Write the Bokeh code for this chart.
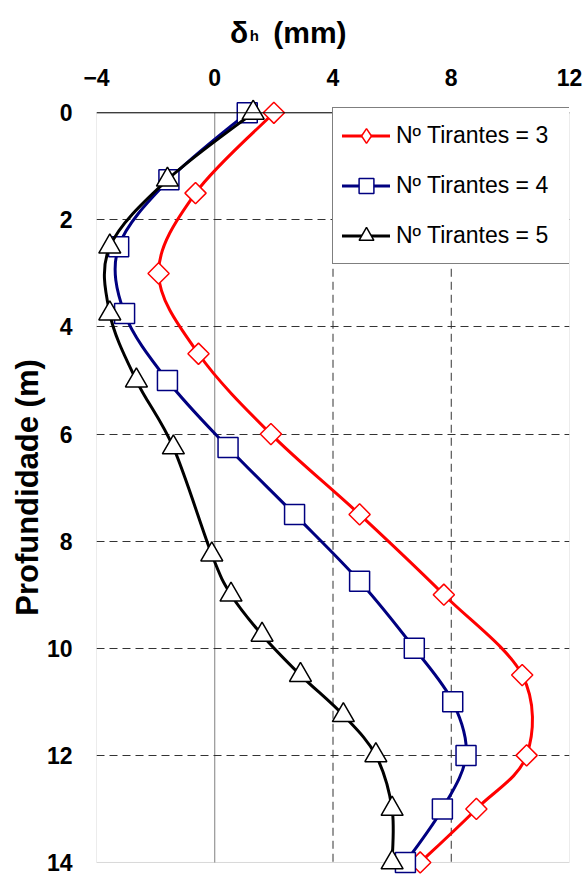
import numpy as np
from bokeh.plotting import figure
from bokeh.models import (Range1d, FixedTicker, Span, BoxAnnotation, Legend, LegendItem,
                          ColumnDataSource, LinearAxis)
from bokeh.embed import file_html
from bokeh.resources import INLINE

# ---------------- data ----------------
x_ticks = [-4, 0, 4, 8, 12]
y_ticks = [0, 2, 4, 6, 8, 10, 12, 14]

depth_3 = [0, 1.5, 3, 4.5, 6, 7.5, 9, 10.5, 12, 13, 14]
delta_3 = [2.0, -0.65, -1.9, -0.55, 1.9, 4.9, 7.75, 10.4, 10.55, 8.85, 6.95]

depth_4 = [0, 1.25, 2.5, 3.75, 5, 6.25, 7.5, 8.75, 10, 11, 12, 13, 14]
delta_4 = [1.1, -1.55, -3.25, -3.05, -1.6, 0.45, 2.7, 4.9, 6.75, 8.05, 8.5, 7.7, 6.45]

depth_5 = [0, 1.25, 2.5, 3.75, 5, 6.25, 8.25, 9, 9.75, 10.5, 11.25, 12, 13, 14]
delta_5 = [1.3, -1.6, -3.55, -3.55, -2.65, -1.4, -0.1, 0.55, 1.6, 2.9, 4.35, 5.45, 6.0, 6.0]

labels = ["Nº Tirantes = 3", "Nº Tirantes = 4", "Nº Tirantes = 5"]
x_title_parts = {0.82: "δ", 3.22: "(mm)"}
x_title_sub = {1.34: "h"}
y_title = "Profundidade (m)"

FONT = "Liberation Sans"

p = figure(width=585, height=876, title=None,
           x_range=Range1d(-4, 12), y_range=Range1d(14.243, -0.248),
           x_axis_location="above", output_backend="svg", toolbar_location=None,
           min_border_left=96, min_border_right=16, min_border_top=99, min_border_bottom=1)
p.outline_line_color = None
p.background_fill_color = "white"
p.border_fill_color = "white"


def style_axis(ax, size, standoff):
    ax.axis_line_color = None
    ax.major_tick_in = 0
    ax.major_tick_out = 0
    ax.minor_tick_in = 0
    ax.minor_tick_out = 0
    ax.major_label_text_font = FONT
    ax.major_label_text_font_style = "bold"
    ax.major_label_text_font_size = size
    ax.major_label_text_color = "black"
    ax.major_label_standoff = standoff


style_axis(p.xaxis[0], "23px", 14)
style_axis(p.yaxis[0], "23px", 24)
p.xaxis.ticker = FixedTicker(ticks=x_ticks)
p.yaxis.ticker = FixedTicker(ticks=y_ticks)

# y axis title
p.yaxis.axis_label = y_title
p.yaxis.axis_label_text_font = FONT
p.yaxis.axis_label_text_font_style = "bold"
p.yaxis.axis_label_text_font_size = "31px"
p.yaxis.axis_label_text_color = "black"
p.yaxis.axis_label_standoff = -1

# x axis title "δh (mm)" built from two extra label-only axes (small h)
ax_t = LinearAxis(ticker=FixedTicker(ticks=list(x_title_parts)),
                  major_label_overrides=x_title_parts)
style_axis(ax_t, "30px", 17)
p.add_layout(ax_t, "above")
ax_h = LinearAxis(ticker=FixedTicker(ticks=list(x_title_sub)),
                  major_label_overrides=x_title_sub)
style_axis(ax_h, "15px", -31)
p.add_layout(ax_h, "above")

# grids
p.xgrid.visible = False
p.ygrid.ticker = FixedTicker(ticks=y_ticks[1:-1])
p.ygrid.grid_line_color = "#333333"
p.ygrid.grid_line_dash = "8 5"
p.ygrid.grid_line_width = 1

ymin, ymax = y_ticks[0], y_ticks[-1]
grid_x = x_ticks[2:-1]
p.segment(x0=grid_x, y0=[ymin] * len(grid_x), x1=grid_x, y1=[ymax] * len(grid_x),
          line_color="#333333", line_dash="8 5", line_width=1, level="underlay")
p.segment(x0=[0], y0=[ymin], x1=[0], y1=[ymax], line_color="#808080", line_width=1,
          level="underlay")

# plot border
p.add_layout(BoxAnnotation(left=x_ticks[0], right=x_ticks[-1], top=ymin, bottom=ymax,
                           fill_alpha=0, line_color="#808080", line_width=1, level="underlay"))
p.add_layout(Span(location=ymin, dimension="width", line_color="black", line_width=1))


def bezier_source(xs, ys):
    P = np.column_stack([xs, ys]).astype(float)
    n = len(P)
    x0, y0, x1, y1, cx0, cy0, cx1, cy1 = ([] for _ in range(8))
    for i in range(n - 1):
        p0 = P[i - 1] if i > 0 else P[i]
        p1, p2 = P[i], P[i + 1]
        p3 = P[i + 2] if i + 2 < n else P[i + 1]
        c1 = p1 + (p2 - p0) / 6.0
        c2 = p2 - (p3 - p1) / 6.0
        x0.append(p1[0]); y0.append(p1[1]); x1.append(p2[0]); y1.append(p2[1])
        cx0.append(c1[0]); cy0.append(c1[1]); cx1.append(c2[0]); cy1.append(c2[1])
    return ColumnDataSource(dict(x0=x0, y0=y0, x1=x1, y1=y1, cx0=cx0, cy0=cy0, cx1=cx1, cy1=cy1))


series = [
    (delta_3, depth_3, "#FF0000", dict(marker="square", angle=np.pi / 4, size=15), "diamond"),
    (delta_4, depth_4, "#000080", dict(marker="square", size=20), None),
    (delta_5, depth_5, "#000000", dict(marker="triangle", size=22), None),
]

items = []
for (xs, ys, col, mk, legend_marker), lab in zip(series, labels):
    b = p.bezier(x0="x0", y0="y0", x1="x1", y1="y1", cx0="cx0", cy0="cy0", cx1="cx1", cy1="cy1",
                 source=bezier_source(xs, ys), line_color=col, line_width=3, line_cap="round")
    lm = None
    if legend_marker:
        # drawn underneath the (rotated-square) markers; used for the legend glyph
        lm = p.scatter(xs, ys, marker=legend_marker, size=13, fill_color="white",
                       line_color=col, line_width=1.5)
    s = p.scatter(xs, ys, fill_color="white", line_color=col, line_width=1.5, **mk)
    items.append(LegendItem(label=lab, renderers=[b, lm if lm is not None else s]))

legend = Legend(items=items, location=(236, 611), margin=0, padding=9,
                glyph_width=48, glyph_height=37, label_height=37, spacing=13,
                label_standoff=6, label_width=166,
                label_text_font=FONT, label_text_font_size="23px", label_text_color="black",
                border_line_color="black", border_line_width=1,
                background_fill_color="white", background_fill_alpha=1)
p.add_layout(legend)

open("out.html", "w").write(file_html(p, INLINE))
